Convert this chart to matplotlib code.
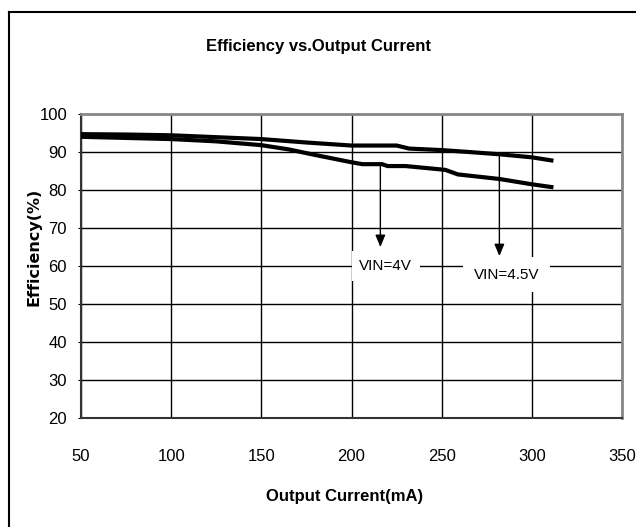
import matplotlib
matplotlib.use('Agg')
import matplotlib.pyplot as plt
from matplotlib.lines import Line2D

# 读图得到的数据 (mA, %)
current_45 = [50, 75, 100, 125, 150, 175, 200, 225, 232, 250, 265, 282, 300, 312]
eff_45 = [94.7, 94.6, 94.4, 93.9, 93.4, 92.5, 91.7, 91.7, 90.9, 90.5, 90.0, 89.4, 88.6, 87.7]

current_4 = [50, 100, 125, 150, 165, 180, 200, 206, 217, 220, 230, 252, 259, 282, 300, 312]
eff_4 = [94.0, 93.4, 92.8, 91.8, 90.7, 89.2, 87.3, 86.8, 86.8, 86.3, 86.3, 85.3, 84.1, 82.9, 81.5, 80.7]

x_ticks = [50, 100, 150, 200, 250, 300, 350]
y_ticks = [20, 30, 40, 50, 60, 70, 80, 90, 100]

W, H = 636, 527
narrow = ['Liberation Sans Narrow', 'Liberation Sans', 'DejaVu Sans']

fig = plt.figure(figsize=(W / 100, H / 100), dpi=100)
ax = fig.add_axes([81 / W, 1 - 418 / H, (622 - 81) / W, (418 - 114) / H])

ax.plot(current_45, eff_45, color='black', lw=3.0, solid_capstyle='butt', zorder=3)
ax.plot(current_4, eff_4, color='black', lw=3.0, solid_capstyle='butt', zorder=3)

ax.set_xlim(50, 350)
ax.set_ylim(20, 100)
ax.set_xticks(x_ticks)
ax.set_yticks(y_ticks)
ax.grid(True, color='black', lw=1.0)
ax.set_axisbelow(True)

for s in ['left', 'bottom']:
    ax.spines[s].set_color('#333333')
    ax.spines[s].set_linewidth(1.5)
for s in ['top', 'right']:
    ax.spines[s].set_color('#888888')
    ax.spines[s].set_linewidth(2.0)

ax.tick_params(axis='y', length=2, pad=8, labelsize=12)
ax.tick_params(axis='x', length=0, pad=22, labelsize=12)
for lab in ax.get_xticklabels() + ax.get_yticklabels():
    lab.set_family(narrow)

# 箭头和标注
arrow = dict(arrowstyle='-|>,head_length=0.6,head_width=0.25', color='black', lw=1.0,
             mutation_scale=12, shrinkA=0, shrinkB=0)
ax.annotate('', xy=(216, 65), xytext=(216, 86.9), arrowprops=arrow, zorder=4)
ax.annotate('', xy=(282, 62.6), xytext=(282, 89.6), arrowprops=arrow, zorder=4)

ax.text(219, 60, 'VIN=4V', ha='center', va='center', fontsize=11,
        family=narrow, bbox=dict(boxstyle='square,pad=0.5', fc='white', ec='none'), zorder=5)
ax.text(286, 57.7, 'VIN=4.5V', ha='center', va='center', fontsize=11,
        family=narrow, bbox=dict(boxstyle='square,pad=0.7', fc='white', ec='none'), zorder=5)

fig.text(318 / W, 1 - 46 / H, 'Efficiency vs.Output Current', ha='center', va='center',
         fontsize=12, fontweight='bold', family=narrow)
fig.text(345 / W, 1 - 497 / H, 'Output Current(mA)', ha='center', va='center',
         fontsize=12, fontweight='bold', family=narrow)
fig.text(34 / W, 1 - 247 / H, 'Efficiency(%)', ha='center', va='center', rotation=90,
         fontsize=11.5, fontweight='bold', family='DejaVu Sans')

# 外框 (右边和下边被裁掉)
fig.add_artist(Line2D([8.5 / W, 8.5 / W], [1 - 11.5 / H, 0], transform=fig.transFigure,
                      color='black', lw=1.5))
fig.add_artist(Line2D([8.5 / W, 1], [1 - 11.5 / H, 1 - 11.5 / H], transform=fig.transFigure,
                      color='black', lw=1.5))

fig.savefig('out.png', dpi=100)
